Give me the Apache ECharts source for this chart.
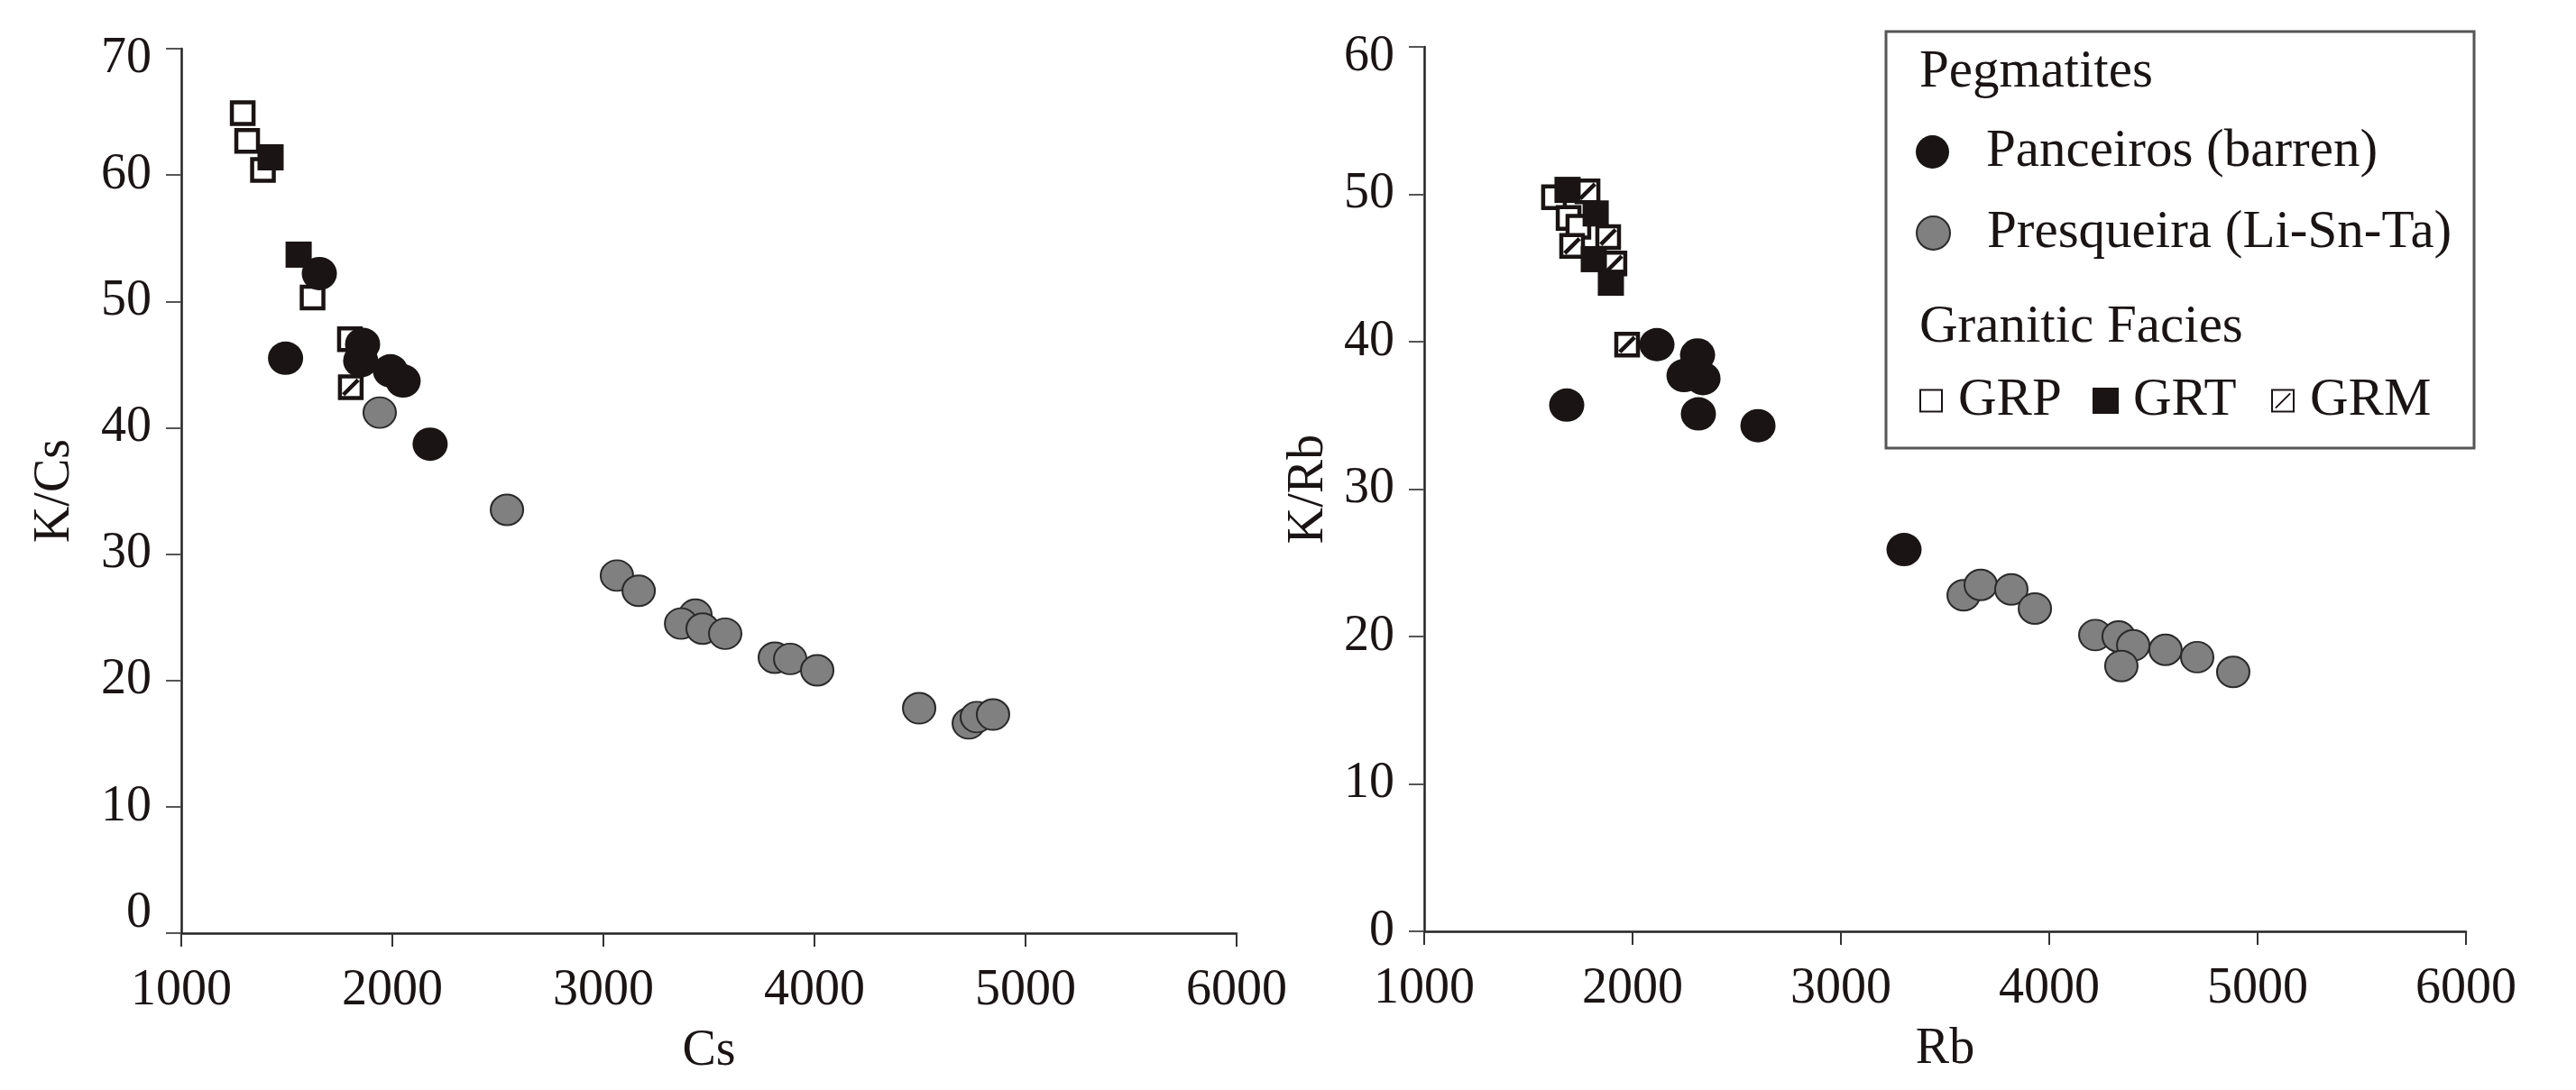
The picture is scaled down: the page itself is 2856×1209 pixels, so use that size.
<!DOCTYPE html>
<html>
<head>
<meta charset="utf-8">
<script src="https://cdn.jsdelivr.net/npm/echarts@6/dist/echarts.min.js"></script>
<style>
    html, body { margin: 0; padding: 0; background: #fff; }
    #chart { width: 2856px; height: 1209px; }
</style>
</head>
<body>
<div id="chart"></div>
<script>
// left panel: K/Cs vs Cs
let csGRP = [[1291, 64.9], [1312, 62.7], [1387, 60.4], [1622, 50.3], [1799, 47.0]];
let csGRT = [[1423, 61.4], [1556, 53.7]];
let csGRM = [[1803, 43.2]];
let csPanceiros = [[1654, 52.2], [1494, 45.5], [1859, 46.6], [1850, 45.3], [1991, 44.5], [2051, 43.7], [2179, 38.7]];
let csPresqueira = [[1940, 41.2], [2543, 33.5], [3064, 28.3], [3167, 27.1], [3436, 25.2], [3368, 24.5], [3470, 24.1],
    [3577, 23.7], [3812, 21.8], [3885, 21.7], [4013, 20.8], [4496, 17.8], [4731, 16.6], [4769, 17.1], [4846, 17.3]];

// right panel: K/Rb vs Rb
let rbGRP = [[1623, 49.8], [1693, 48.4], [1740, 47.8]];
let rbGRT = [[1688, 50.3], [1823, 48.7], [1814, 45.6], [1896, 44.0]];
let rbGRM = [[1784, 50.2], [1710, 46.5], [1883, 47.1], [1913, 45.3], [1974, 39.8]];
let rbPanceiros = [[2117, 39.8], [2312, 39.1], [2247, 37.7], [2338, 37.5], [1684, 35.7], [2316, 35.1], [2602, 34.3], [3303, 25.9]];
let rbPresqueira = [[3589, 22.8], [3671, 23.5], [3818, 23.2], [3931, 21.9], [4221, 20.1], [4333, 20.0], [4403, 19.4],
    [4346, 18.0], [4558, 19.1], [4710, 18.6], [4883, 17.6]];

// axis ranges
let xRange = [1000, 6000];
let csRange = [0, 70];
let rbRange = [0, 60];

const FONT = '"Liberation Serif", "Times New Roman", serif';
const INK = '#1a1414';

let txt = { fontFamily: FONT, fontSize: 56, color: INK };
let legTxt = { fontFamily: FONT, fontSize: 59, color: INK };

let xAxis = (idx, name) => ({
    gridIndex: idx,
    type: 'value',
    min: xRange[0],
    max: xRange[1],
    interval: 1000,
    name: name,
    nameLocation: 'middle',
    nameGap: 103,
    nameTextStyle: txt,
    axisLine: { show: true, onZero: false, lineStyle: { color: '#222', width: 2.5 } },
    axisTick: { show: true, inside: false, length: 15, lineStyle: { color: '#333', width: 2 } },
    axisLabel: Object.assign({ margin: 36, formatter: v => '' + v }, txt),
    splitLine: { show: false }
});

let yAxis = (idx, name, range, gap, lowZero) => ({
    gridIndex: idx,
    type: 'value',
    min: range[0],
    max: range[1],
    interval: 10,
    name: name,
    nameLocation: 'middle',
    nameGap: gap,
    nameTextStyle: txt,
    axisLine: { show: true, onZero: false, lineStyle: { color: '#222', width: 2.5 } },
    axisTick: { show: true, length: 17, lineStyle: { color: '#555', width: 2 } },
    axisLabel: Object.assign({
        margin: 33,
        formatter: v => {
            if (v === range[1]) return '{top|' + v + '}';
            if (v === 0 && lowZero) return '{low|' + v + '}';
            return '' + v;
        },
        rich: {
            top: Object.assign({ padding: [22, 0, 0, 0] }, txt),
            low: Object.assign({ padding: [0, 0, 44, 0] }, txt)
        }
    }, txt),
    splitLine: { show: false }
});

let styles = {
    GRP: { symbol: 'rect', symbolSize: 24, itemStyle: { color: '#fff', borderColor: INK, borderWidth: 4.5, opacity: 1 } },
    GRM: { symbol: 'path://M0,0L10,0L10,10L0,10Z M1.6,8.4L8.4,1.6', symbolSize: 24,
           itemStyle: { color: '#fff', borderColor: INK, borderWidth: 4.5, opacity: 1 } },
    GRT: { symbol: 'rect', symbolSize: 29, itemStyle: { color: INK, borderWidth: 0, opacity: 1 } },
    'Panceiros (barren)': { symbol: 'circle', symbolSize: [39, 37], itemStyle: { color: INK, borderWidth: 0, opacity: 1 } },
    'Presqueira (Li-Sn-Ta)': { symbol: 'circle', symbolSize: [36, 34],
           itemStyle: { color: '#808080', borderColor: '#2a2a2a', borderWidth: 2, opacity: 1 } }
};

let mk = (name, idx, data) => Object.assign({
    name: name,
    type: 'scatter',
    xAxisIndex: idx,
    yAxisIndex: idx,
    data: data
}, styles[name]);

let legendItem = (name, left, top, w, h, pad) => ({
    data: [name],
    left: left,
    top: top,
    padding: 0,
    itemWidth: w,
    itemHeight: h,
    selectedMode: false,
    textStyle: Object.assign({ lineHeight: 56, padding: [0, 0, 0, pad] }, legTxt)
});

let option = {
    animation: false,
    backgroundColor: '#fff',
    grid: [
        { left: 201, top: 54, width: 1170, height: 981 },
        { left: 1579, top: 52, width: 1155, height: 981 }
    ],
    xAxis: [xAxis(0, 'Cs'), xAxis(1, 'Rb')],
    yAxis: [yAxis(0, 'K/Cs', csRange, 112, true), yAxis(1, 'K/Rb', rbRange, 100, false)],
    legend: [
        legendItem('Panceiros (barren)', 2124, 139, 37, 37, 36),
        legendItem('Presqueira (Li-Sn-Ta)', 2124, 229, 37, 37, 36),
        legendItem('GRP', 2128, 415, 24, 24, 13),
        legendItem('GRT', 2320, 415, 29, 29, 11),
        legendItem('GRM', 2518, 415, 24, 24, 13)
    ],
    graphic: [
        { type: 'rect', z: -1, shape: { x: 2091, y: 35, width: 652, height: 462 },
          style: { fill: '#fff', stroke: '#555', lineWidth: 3 } },
        { type: 'text', x: 2128, y: 80,
          style: { text: 'Pegmatites', font: '59px ' + FONT, fill: INK, verticalAlign: 'middle' } },
        { type: 'text', x: 2128, y: 363,
          style: { text: 'Granitic Facies', font: '59px ' + FONT, fill: INK, verticalAlign: 'middle' } }
    ],
    series: [
        mk('GRP', 0, csGRP),
        mk('GRM', 0, csGRM),
        mk('GRT', 0, csGRT),
        mk('Panceiros (barren)', 0, csPanceiros),
        mk('Presqueira (Li-Sn-Ta)', 0, csPresqueira),
        mk('GRP', 1, rbGRP),
        mk('GRM', 1, rbGRM),
        mk('GRT', 1, rbGRT),
        mk('Panceiros (barren)', 1, rbPanceiros),
        mk('Presqueira (Li-Sn-Ta)', 1, rbPresqueira)
    ]
};

let mychart = echarts.init(document.getElementById('chart'));
mychart.setOption(option);
</script>
</body>
</html>
